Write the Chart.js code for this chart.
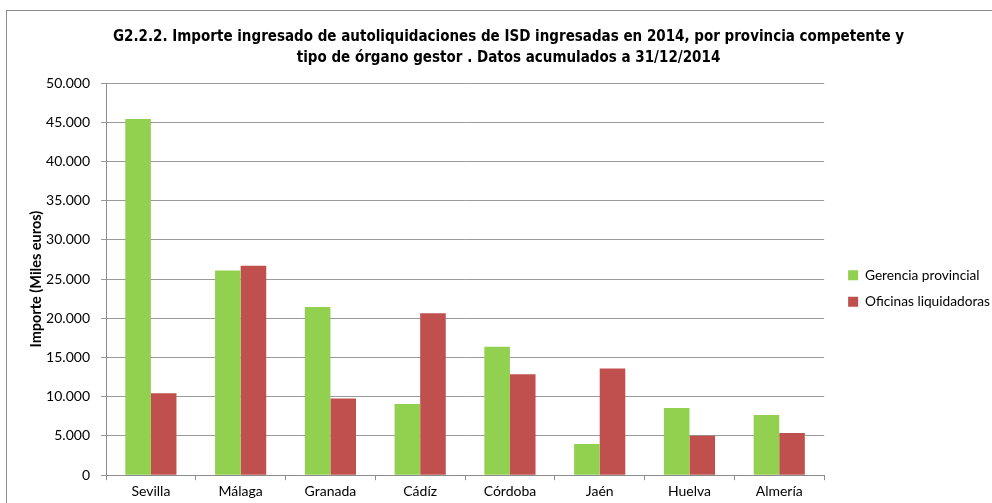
<!DOCTYPE html>
<html>
<head>
<meta charset="utf-8">
<script src="https://cdn.jsdelivr.net/npm/chart.js@4"></script>
<style>
  html, body { margin: 0; padding: 0; background: #fff; }
  #wrap { position: relative; width: 992px; height: 503px; overflow: hidden; }
  #frame { position: absolute; left: 6px; top: 10px; width: 1000px; height: 520px; border: 1px solid #8c8c8c; box-sizing: border-box; pointer-events: none; }
</style>
</head>
<body>
<div id="wrap">
  <canvas id="chart" width="992" height="503"></canvas>
  <div id="frame"></div>
</div>
<script>
// provincias
const provincias = ["Sevilla", "Málaga", "Granada", "Cádíz", "Córdoba", "Jaén", "Huelva", "Almería"];
// miles de euros
const gerenciaProvincial = [45400, 26100, 21450, 9080, 16380, 3970, 8570, 7680];
const oficinasLiquidadoras = [10450, 26700, 9770, 20640, 12880, 13600, 5030, 5370];
const yTickStep = 5000;
const yMax = 50000;

// formato 45.000
function fmt(v) {
  return String(v).replace(/\B(?=(\d{3})+(?!\d))/g, ".");
}

// mover la leyenda un poco a la derecha
const legendShift = {
  id: "legendShift",
  afterLayout(chart) {
    chart.legend.left += 11;
    chart.legend.right += 11;
  },
};

const ctx = document.getElementById("chart").getContext("2d");
const chart = new Chart(ctx, {
  type: "bar",
  data: {
    labels: provincias,
    datasets: [
      {
        label: "Gerencia provincial",
        data: gerenciaProvincial,
        backgroundColor: "#92D050",
        borderWidth: 0,
      },
      {
        label: "Oficinas liquidadoras",
        data: oficinasLiquidadoras,
        backgroundColor: "#C0504D",
        borderWidth: 0,
      },
    ],
  },
  plugins: [legendShift],
  options: {
    responsive: false,
    animation: false,
    layout: { padding: { left: 28, right: 3, top: 0, bottom: 0 } },
    datasets: {
      bar: { categoryPercentage: 0.57, barPercentage: 1.0 },
    },
    plugins: {
      title: {
        display: true,
        text: [
          "G2.2.2. Importe ingresado de autoliquidaciones de ISD ingresadas en 2014, por provincia competente y",
          "tipo de órgano gestor . Datos acumulados a 31/12/2014",
        ],
        color: "#000",
        font: { family: "'DejaVu Sans Condensed', 'Liberation Sans Narrow', sans-serif", size: 15, weight: "bold", lineHeight: 1.4 },
        padding: { top: 26.5, bottom: 14.5 },
      },
      legend: {
        position: "right",
        align: "center",
        title: {
          display: true,
          text: " ",
          font: { size: 10 },
          padding: { top: 62, bottom: 0 },
        },
        labels: {
          boxWidth: 10,
          boxHeight: 10,
          padding: 13,
          color: "#000",
          font: { family: "Lato, sans-serif", size: 13.7 },
        },
      },
      tooltip: { enabled: false },
    },
    scales: {
      x: {
        grid: { display: true, drawOnChartArea: false, tickLength: 5, color: "#8c8c8c" },
        border: { color: "#8c8c8c" },
        ticks: { color: "#000", font: { family: "Lato, sans-serif", size: 14 }, padding: 3 },
      },
      y: {
        min: 0,
        max: yMax,
        afterFit: (s) => { s.width = 78; },
        ticks: {
          stepSize: yTickStep,
          color: "#000",
          font: { family: "Lato, sans-serif", size: 14 },
          padding: 11,
          callback: (v) => fmt(v),
        },
        grid: { color: "#9a9a9a", tickLength: 5 },
        border: { color: "#8c8c8c" },
        title: {
          display: true,
          text: "Importe (Miles euros)",
          color: "#000",
          font: { family: "Lato, sans-serif", size: 14.5, weight: "bold" },
          padding: { top: 0, bottom: 0 },
        },
      },
    },
  },
});
</script>
</body>
</html>
